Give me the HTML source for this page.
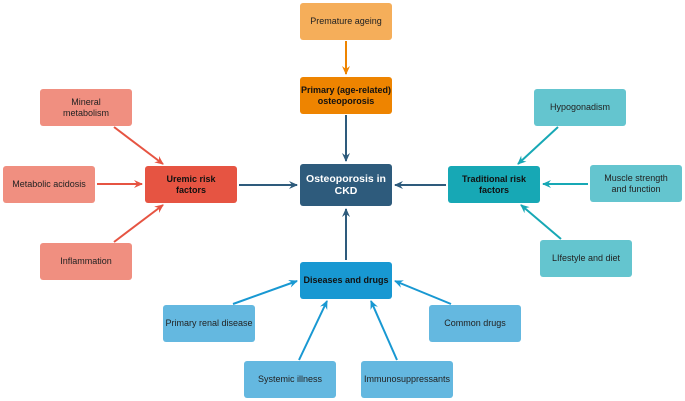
<!DOCTYPE html>
<html><head><meta charset="utf-8"><style>
html,body{margin:0;padding:0;background:#fff;}
body{width:685px;height:401px;position:relative;overflow:hidden;font-family:"Liberation Sans",Arial,sans-serif;}
.b{position:absolute;width:92px;height:37px;border-radius:3px;display:flex;align-items:center;justify-content:center;text-align:center;font-size:9px;line-height:11px;color:#222;box-sizing:border-box;}
.k{font-weight:bold;color:#111;}
svg{position:absolute;left:0;top:0;}
</style></head><body>
<svg width="685" height="401">
<defs>
<marker id="mo" markerWidth="10" markerHeight="10" refX="8" refY="4" orient="auto" markerUnits="userSpaceOnUse"><path d="M0,0 L9,4 L0,8 L3,4z" fill="#EE8400"/></marker>
<marker id="md" markerWidth="10" markerHeight="10" refX="8" refY="4" orient="auto" markerUnits="userSpaceOnUse"><path d="M0,0 L9,4 L0,8 L3,4z" fill="#2E5B7C"/></marker>
<marker id="mr" markerWidth="10" markerHeight="10" refX="8" refY="4" orient="auto" markerUnits="userSpaceOnUse"><path d="M0,0 L9,4 L0,8 L3,4z" fill="#E65442"/></marker>
<marker id="mt" markerWidth="10" markerHeight="10" refX="8" refY="4" orient="auto" markerUnits="userSpaceOnUse"><path d="M0,0 L9,4 L0,8 L3,4z" fill="#17A8B5"/></marker>
<marker id="mb" markerWidth="10" markerHeight="10" refX="8" refY="4" orient="auto" markerUnits="userSpaceOnUse"><path d="M0,0 L9,4 L0,8 L3,4z" fill="#1898D2"/></marker>
</defs>
<g stroke-width="2" fill="none">
<line x1="346" y1="41" x2="346" y2="74" stroke="#EE8400" marker-end="url(#mo)"/>
<line x1="346" y1="115" x2="346" y2="161" stroke="#2E5B7C" marker-end="url(#md)"/>
<line x1="239" y1="185" x2="297" y2="185" stroke="#2E5B7C" marker-end="url(#md)"/>
<line x1="446" y1="185" x2="395" y2="185" stroke="#2E5B7C" marker-end="url(#md)"/>
<line x1="346" y1="260" x2="346" y2="209" stroke="#2E5B7C" marker-end="url(#md)"/>
<line x1="114" y1="127" x2="163" y2="164" stroke="#E65442" marker-end="url(#mr)"/>
<line x1="97" y1="184" x2="142" y2="184" stroke="#E65442" marker-end="url(#mr)"/>
<line x1="114" y1="242" x2="163" y2="205" stroke="#E65442" marker-end="url(#mr)"/>
<line x1="558" y1="127" x2="518" y2="164" stroke="#17A8B5" marker-end="url(#mt)"/>
<line x1="588" y1="184" x2="543" y2="184" stroke="#17A8B5" marker-end="url(#mt)"/>
<line x1="561" y1="239" x2="521" y2="205" stroke="#17A8B5" marker-end="url(#mt)"/>
<line x1="233" y1="304" x2="297" y2="281" stroke="#1898D2" marker-end="url(#mb)"/>
<line x1="451" y1="304" x2="395" y2="281" stroke="#1898D2" marker-end="url(#mb)"/>
<line x1="299" y1="360" x2="327" y2="301" stroke="#1898D2" marker-end="url(#mb)"/>
<line x1="397" y1="360" x2="371" y2="301" stroke="#1898D2" marker-end="url(#mb)"/>
</g>
</svg>
<div class="b" style="left:300px;top:3px;background:#F5AE5A">Premature ageing</div>
<div class="b k" style="left:300px;top:77px;background:#EE8400">Primary (age-related)<br>osteoporosis</div>
<div class="b k" style="left:300px;top:164px;height:42px;background:#2E5B7C;color:#fff;font-size:10.5px;line-height:12px">Osteoporosis in<br>CKD</div>
<div class="b" style="left:40px;top:89px;background:#F08F80">Mineral<br>metabolism</div>
<div class="b" style="left:3px;top:166px;background:#F08F80">Metabolic acidosis</div>
<div class="b k" style="left:145px;top:166px;background:#E65442">Uremic risk<br>factors</div>
<div class="b" style="left:40px;top:243px;background:#F08F80">Inflammation</div>
<div class="b" style="left:534px;top:89px;background:#64C5CF">Hypogonadism</div>
<div class="b k" style="left:448px;top:166px;background:#17A8B5">Traditional risk<br>factors</div>
<div class="b" style="left:590px;top:165px;background:#64C5CF">Muscle strength<br>and function</div>
<div class="b" style="left:540px;top:240px;background:#64C5CF">LIfestyle and diet</div>
<div class="b k" style="left:300px;top:262px;background:#1898D2">Diseases and drugs</div>
<div class="b" style="left:163px;top:305px;background:#64B8E0">Primary renal disease</div>
<div class="b" style="left:429px;top:305px;background:#64B8E0">Common drugs</div>
<div class="b" style="left:244px;top:361px;background:#64B8E0">Systemic illness</div>
<div class="b" style="left:361px;top:361px;background:#64B8E0">Immunosuppressants</div>
</body></html>
